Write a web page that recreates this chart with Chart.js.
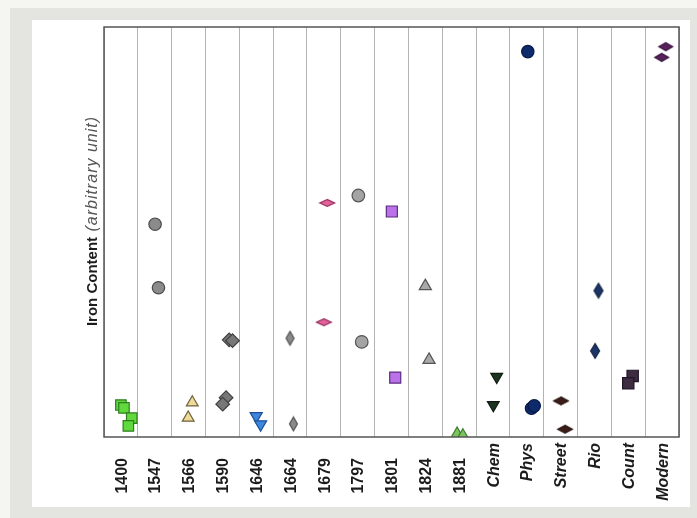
<!DOCTYPE html>
<html>
<head>
<meta charset="utf-8">
<script src="https://cdn.jsdelivr.net/npm/chart.js@4"></script>
<style>
  html, body { margin: 0; padding: 0; width: 697px; height: 518px; overflow: hidden; background: #f5f5f1; }
  #frame { position: absolute; left: 10px; top: 8px; width: 687px; height: 510px; background: #e4e4e0; }
  #panel { position: absolute; left: 32px; top: 20px; width: 658px; height: 487px; background: #ffffff; }
  #chart { position: absolute; left: 0; top: 0; }
</style>
</head>
<body>
<div id="frame"></div>
<div id="panel"></div>
<canvas id="chart" width="697" height="518"></canvas>
<script>
// Sample groups along the x axis
const categories = ['1400', '1547', '1566', '1590', '1646', '1664', '1679', '1797',
  '1801', '1824', '1881', 'Chem', 'Phys', 'Street', 'Rio', 'Count', 'Modern'];

// Iron content of each measurement (arbitrary unit, 0-100), one list per group
const ironValues = [
  [7.8, 7.1, 4.6, 2.7],
  [51.9, 36.4],
  [8.4, 4.7],
  [23.7, 23.5, 9.6, 8.0],
  [5.1, 3.1],
  [24.1, 3.2],
  [57.1, 28.0],
  [58.9, 23.2],
  [55.0, 14.5],
  [36.8, 18.8],
  [0.6, 0.2],
  [14.7, 7.8],
  [94.0, 7.0, 7.6],
  [8.8, 1.9],
  [35.7, 21.0],
  [14.9, 13.1],
  [95.2, 92.6]
];

// Horizontal spread of repeated measurements within a group (category widths)
const xJitter = [
  [0.0, 0.09, 0.32, 0.22],
  [0.01, 0.11],
  [0.11, -0.01],
  [0.2, 0.3, 0.11, 0.01],
  [0.0, 0.13],
  [0.0, 0.1],
  [0.1, 0.0],
  [0.02, 0.12],
  [0.01, 0.11],
  [0.0, 0.11],
  [-0.06, 0.11],
  [0.11, 0.01],
  [0.03, 0.14, 0.22],
  [0.01, 0.13],
  [0.12, 0.02],
  [0.13, 0.0],
  [0.11, -0.01]
];

// Diamond marker of arbitrary width/height, rendered once into a small canvas
function diamondMarker(w, h, fill, stroke) {
  const c = document.createElement('canvas');
  c.width = Math.ceil(w + 3);
  c.height = Math.ceil(h + 3);
  const g = c.getContext('2d');
  const cx = c.width / 2, cy = c.height / 2;
  g.beginPath();
  g.moveTo(cx, cy - h / 2);
  g.lineTo(cx + w / 2, cy);
  g.lineTo(cx, cy + h / 2);
  g.lineTo(cx - w / 2, cy);
  g.closePath();
  g.fillStyle = fill;
  g.fill();
  g.lineWidth = 1.1;
  g.strokeStyle = stroke;
  g.stroke();
  return c;
}

// Marker look for each group
const markerLook = [
  { style: 'rect', r: 7.4, fill: '#5fd93c', stroke: '#2f7f1f' },
  { style: 'circle', r: 6.2, fill: '#8b8b8b', stroke: '#4b4b4b' },
  { style: 'triangle', r: 6.8, fill: '#efdb98', stroke: '#6e6240' },
  { style: 'rectRot', r: 6.8, fill: '#777777', stroke: '#3f3f3f' },
  { style: 'triangle', rot: 180, r: 7, fill: '#3d86dc', stroke: '#1d4f9a' },
  { diamond: [8, 14], fill: '#8a8a8a', stroke: '#474747' },
  { diamond: [15, 7], fill: '#e2629c', stroke: '#8d2152' },
  { style: 'circle', r: 6.3, fill: '#a4a4a4', stroke: '#555555' },
  { style: 'rect', r: 7.8, fill: '#bb72e8', stroke: '#5b2c82' },
  { style: 'triangle', r: 7, fill: '#a9a9a9', stroke: '#565656' },
  { style: 'triangle', r: 7.5, fill: '#7bc35c', stroke: '#3e7b2e' },
  { style: 'triangle', rot: 180, r: 6.8, fill: '#1e3621', stroke: '#111a12' },
  { style: 'circle', r: 6.2, fill: '#0d2b6c', stroke: '#071a45' },
  { diamond: [15, 8], fill: '#3c1d17', stroke: '#24100c' },
  { diamond: [9, 15], fill: '#1b3567', stroke: '#0e1e40' },
  { style: 'rect', r: 8, fill: '#3d2b40', stroke: '#22172a' },
  { diamond: [14, 8], fill: '#57215a', stroke: '#3a1240' }
];

const datasets = categories.map((cat, i) => {
  const look = markerLook[i];
  const style = look.diamond ? diamondMarker(look.diamond[0], look.diamond[1], look.fill, look.stroke) : look.style;
  return {
    label: cat,
    data: ironValues[i].map((v, k) => ({ x: i + xJitter[i][k], y: v })),
    showLine: false,
    pointStyle: style,
    pointRadius: look.r || 6,
    pointRotation: look.rot || 0,
    pointBackgroundColor: look.fill,
    pointBorderColor: look.stroke,
    pointBorderWidth: 1.2,
    clip: 0
  };
});

const FONT = '"Liberation Sans", Arial, Helvetica, sans-serif';

// Plot frame, rotated group labels and the y axis title
const decorations = {
  id: 'decorations',
  afterDraw(chart) {
    const { ctx, chartArea: a } = chart;
    const xs = chart.scales.x;
    ctx.save();
    ctx.strokeStyle = '#555555';
    ctx.lineWidth = 1.5;
    ctx.strokeRect(a.left, a.top, a.right - a.left, a.bottom - a.top);

    ctx.fillStyle = '#1c1c1c';
    categories.forEach((cat, i) => {
      const word = isNaN(Number(cat));
      ctx.font = (word ? 'italic ' : '') + 'bold 16px ' + FONT;
      const x = xs.getPixelForValue(i);
      ctx.save();
      ctx.translate(x + 5.7, a.bottom + (word ? 6 : 21));
      ctx.rotate(-Math.PI / 2);
      ctx.textAlign = 'right';
      ctx.textBaseline = 'alphabetic';
      ctx.fillText(cat, 0, 0);
      ctx.restore();
    });

    const main = 'Iron Content';
    const note = ' (arbitrary unit)';
    const boldFont = 'bold 15px ' + FONT;
    const noteFont = 'italic 16px ' + FONT;
    ctx.font = boldFont;
    ctx.letterSpacing = '0px';
    const w1 = ctx.measureText(main).width;
    ctx.font = noteFont;
    ctx.letterSpacing = '1px';
    const w2 = ctx.measureText(note).width;
    const cy = 221;
    ctx.translate(97, cy + (w1 + w2) / 2);
    ctx.rotate(-Math.PI / 2);
    ctx.textAlign = 'left';
    ctx.textBaseline = 'alphabetic';
    ctx.font = boldFont;
    ctx.letterSpacing = '0px';
    ctx.fillStyle = '#1c1c1c';
    ctx.fillText(main, 0, 0);
    ctx.font = noteFont;
    ctx.letterSpacing = '1px';
    ctx.fillStyle = '#555555';
    ctx.fillText(note, w1, 0);
    ctx.restore();
  }
};

new Chart(document.getElementById('chart'), {
  type: 'scatter',
  data: { datasets },
  options: {
    responsive: false,
    animation: false,
    devicePixelRatio: 1,
    layout: { padding: { left: 104, top: 27, right: 18, bottom: 81 } },
    plugins: { legend: { display: false }, tooltip: { enabled: false } },
    scales: {
      x: {
        type: 'linear',
        min: -0.5,
        max: categories.length - 0.5,
        afterBuildTicks: (scale) => {
          scale.ticks = categories.concat(['']).map((_, k) => ({ value: k - 0.5 }));
        },
        ticks: { display: false },
        grid: { color: '#b3b3b3', lineWidth: 1, drawTicks: false },
        border: { display: false }
      },
      y: {
        display: false,
        min: 0,
        max: 100
      }
    }
  },
  plugins: [decorations]
});
</script>
</body>
</html>
